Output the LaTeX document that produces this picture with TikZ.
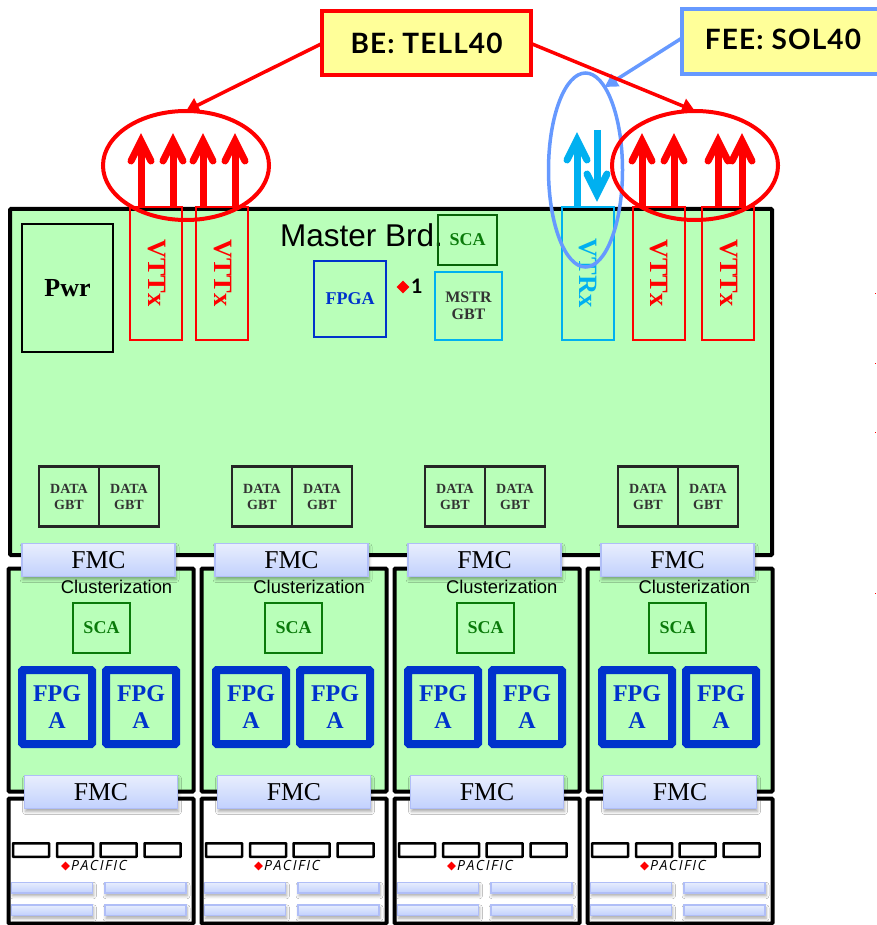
\documentclass[tikz,border=0pt]{standalone}
\usepackage{fontspec}
\setmainfont{Liberation Serif}
\newfontfamily\armfont{Liberation Sans}
\newfontfamily\handfont[LetterSpace=4]{Lato}
\newfontfamily\pacfont[LetterSpace=11]{Open Sans}
\usetikzlibrary{arrows.meta,shapes.geometric,shadows.blur}
\newcommand{\fsz}[2]{\fontsize{#1}{#2}\selectfont}
\definecolor{brdgreen}{HTML}{B9FFB9}
\definecolor{callyellow}{HTML}{FFFF99}
\definecolor{feeblue}{HTML}{6699FF}
\definecolor{vtrxcyan}{HTML}{00B0F0}
\definecolor{fpgablue}{HTML}{0033CC}
\definecolor{scagreen}{HTML}{0A7A0A}
\definecolor{fmctop}{HTML}{E8EEFD}
\definecolor{fmcbot}{HTML}{C2D1FD}
\definecolor{fmcline}{HTML}{B0BEF7}
\tikzset{
  box/.style={draw, rectangle, inner sep=0pt, outer sep=0pt, align=center},
  board/.style={box, line width=4pt, rounded corners=1pt},
  callout/.style={box, line width=4pt, fill=callyellow, font=\handfont\bfseries\fsz{28}{28}},
  vlink/.style={box, line width=2pt, minimum width=52pt, minimum height=133pt},
  vlabel/.style={rotate=-90, inner sep=0pt, font=\bfseries\fsz{26.5}{26.5}},
  datagbt/.style={box, line width=2.3pt, draw=black!85, minimum width=60pt, minimum height=60pt, text=black!80, font=\bfseries\fsz{14}{16}},
  scabox/.style={box, line width=2pt, draw=scagreen, text=scagreen, font=\bfseries\fsz{18}{18}},
  fpgabox/.style={box, line width=8pt, rounded corners=1pt, draw=fpgablue, text=fpgablue, minimum width=70pt, minimum height=74pt, font=\bfseries\fsz{24}{26.5}},
  fmc/.style={box, line width=1.5pt, draw=fmcline, top color=fmctop, bottom color=fmcbot,
    blur shadow={shadow xshift=1pt, shadow yshift=-3pt, shadow blur radius=3pt, shadow opacity=35}},
  fmcbar/.style={fmc, minimum width=153pt, minimum height=33pt, font=\fsz{25.7}{25.7}},
  lowbar/.style={fmc, minimum width=81pt, minimum height=10.5pt},
  chipbox/.style={box, line width=2.5pt, rounded corners=0.5pt, minimum width=36pt, minimum height=13.5pt},
  ring/.style={draw, ellipse, inner sep=0pt, outer sep=0pt},
  flow/.style={line width=7pt},
  barb/.pic={\draw[line width=7pt, line cap=round] (-10,20) -- (0,0) -- (10,20);},
  reddot/.style={diamond, fill=red, inner sep=0pt}
}
\begin{document}
\begin{tikzpicture}[x=1pt, y=-1pt]
\useasboundingbox (0,0) rectangle (876,925);

% Master board
\node[board, fill=brdgreen, minimum width=762pt, minimum height=346pt] (master) at (391,382) {};
\node[inner sep=0pt, font=\armfont\fsz{31.5}{31.5}] (mastername) at (361.5,235) {Master Brd.};
\node[box, line width=2pt, minimum width=91pt, minimum height=128pt, font=\bfseries\fsz{26}{26}] (pwr) at (67.5,288) {Pwr};
\node[box, line width=2pt, draw=fpgablue, text=fpgablue, minimum width=72pt, minimum height=76pt, font=\bfseries\fsz{18}{18}] (mfpga) at (350,299) {FPGA};
\node[reddot, minimum size=13pt] (mdot) at (403,287) {};
\node[inner sep=0pt, font=\handfont\bfseries\fsz{20}{20}] (mone) at (417,286) {1};
\node[scabox, draw=scagreen!80!black, minimum width=59pt, minimum height=50pt] (msca) at (467.5,240) {SCA};
\node[box, line width=2pt, draw=vtrxcyan, text=black!80, minimum width=67pt, minimum height=68pt, font=\bfseries\fsz{16}{17}] (mgbt) at (468.5,306) {MSTR\\GBT};

% Arrows out of the links
\coordinate (ta) at (141,141);
\coordinate (tb) at (173,141);
\coordinate (tc) at (203,141);
\coordinate (td) at (235,141);
\coordinate (te) at (642,141);
\coordinate (tf) at (674,141);
\coordinate (tg) at (718,141);
\coordinate (th) at (742,141);
\coordinate (tu) at (577,140);
\coordinate (tv) at (597,130);
\coordinate (tw) at (597,194);

% VTTx and VTRx links
\node[vlink, draw=red] (vttxa) at (156,273.5) {};
\node[vlink, draw=red] (vttxb) at (222,273.5) {};
\node[vlink, draw=vtrxcyan] (vtrx) at (588,273.5) {};
\node[vlink, draw=red] (vttxc) at (658.5,273.5) {};
\node[vlink, draw=red] (vttxd) at (728,273.5) {};
\node[vlabel, text=red] (lbla) at (157,273) {VTTx};
\node[vlabel, text=red] (lblb) at (223,273) {VTTx};
\node[vlabel, text=vtrxcyan] (lblr) at (588,273) {VTRx};
\node[vlabel, text=red] (lblc) at (659,273) {VTTx};
\node[vlabel, text=red] (lbld) at (729,273) {VTTx};
\draw[flow, red] (vttxa.north -| ta) -- (ta) pic {barb};
\draw[flow, red] (vttxa.north -| tb) -- (tb) pic {barb};
\draw[flow, red] (vttxb.north -| tc) -- (tc) pic {barb};
\draw[flow, red] (vttxb.north -| td) -- (td) pic {barb};
\draw[flow, red] (vttxc.north -| te) -- (te) pic {barb};
\draw[flow, red] (vttxc.north -| tf) -- (tf) pic {barb};
\draw[flow, red] (vttxd.north -| tg) -- (tg) pic {barb};
\draw[flow, red] (vttxd.north -| th) -- (th) pic {barb};
\draw[flow, vtrxcyan] (vtrx.north -| tu) -- (tu) pic {barb};
\draw[flow, vtrxcyan] (tv) -- (tw) pic[rotate=180] {barb};

% Four columns of cards
\foreach \i/\dx/\fx in {1/0/0, 2/193/194, 3/386/386, 4/579/580} {
  \node[datagbt] (dgbta\i) at ({69+\dx},496.5) {DATA\\GBT};
  \node[datagbt] (dgbtb\i) at ({129+\dx},496.5) {DATA\\GBT};
  % Clusterization board
  \node[board, fill=brdgreen, minimum width=185pt, minimum height=223pt] (clus\i) at ({101+\dx},680) {};
  \node[inner sep=0pt, font=\armfont\fsz{18.4}{18.4}] (clusname\i) at ({116.5+\dx*0.998},587) {Clusterization};
  \node[scabox, minimum width=57pt, minimum height=50pt] (sca\i) at ({101.5+\dx*0.995},628) {SCA};
  \node[fpgabox] (fpgaa\i) at ({57+\fx},707) {FPG\\A};
  \node[fpgabox] (fpgab\i) at ({141+\fx},707) {FPG\\A};
  % PACIFIC board
  \node[board, fill=white, minimum width=185pt, minimum height=125pt] (pac\i) at ({101+\dx},861) {};
  \node[fmcbar] (fmctop\i) at ({98.5+\dx},560) {FMC};
  \node[fmcbar] (fmclow\i) at ({101+\dx},792) {FMC};
  \node[chipbox] (chipa\i) at ({31+\dx},850) {};
  \node[chipbox] (chipb\i) at ({75+\dx},850) {};
  \node[chipbox] (chipc\i) at ({118.5+\dx},850) {};
  \node[chipbox] (chipd\i) at ({162.5+\dx},850) {};
  \node[reddot, minimum size=9pt] (pdot\i) at ({65.5+\dx},866) {};
  \node[inner sep=0pt, font=\pacfont\itshape\fsz{14}{14}] (pname\i) at ({99+\dx},865) {PACIFIC};
  \node[lowbar] (bara\i) at ({52+\dx},887.5) {};
  \node[lowbar] (barb\i) at ({145.5+\dx},887.5) {};
  \node[lowbar] (barc\i) at ({52+\dx},910) {};
  \node[lowbar] (bard\i) at ({145.5+\dx},910) {};
}

% Callouts
\node[callout, draw=red, minimum width=209pt, minimum height=64pt] (be) at (426.5,43.5) {BE: TELL40};
\node[callout, draw=feeblue, minimum width=198pt, minimum height=65pt] (fee) at (781,42) {};
\node[inner sep=0pt, font=\handfont\bfseries\fsz{28}{28}] (feename) at (783,39) {FEE: SOL40};

% Rings
\node[ring, draw=feeblue, line width=3.5pt, minimum width=74pt, minimum height=194pt] (ringfee) at (585.5,170) {};
\node[ring, draw=red, line width=4pt, minimum width=166pt, minimum height=109pt] (ringa) at (186,165.5) {};
\node[ring, draw=red, line width=4pt, minimum width=166pt, minimum height=109pt] (ringb) at (695,165.5) {};
\draw[feeblue, line width=3.5pt, -{Triangle[length=13pt, width=14pt]}] ([yshift=4pt]fee.west) -- (ringfee.77);
\draw[red, line width=3.5pt, -{Triangle[length=13pt, width=15pt]}] (be.west) -- (ringa.north);
\draw[red, line width=3.5pt, -{Triangle[length=13pt, width=15pt]}] (be.east) -- (ringb.north);

% Cut-off marks at the right edge
\fill[red] (874.5,292.5) rectangle (876,294);
\fill[red] (874.5,362.5) rectangle (876,364);
\fill[red] (874.5,431.5) rectangle (876,433);
\fill[red] (874.5,592.5) rectangle (876,594);
\end{tikzpicture}
\end{document}
